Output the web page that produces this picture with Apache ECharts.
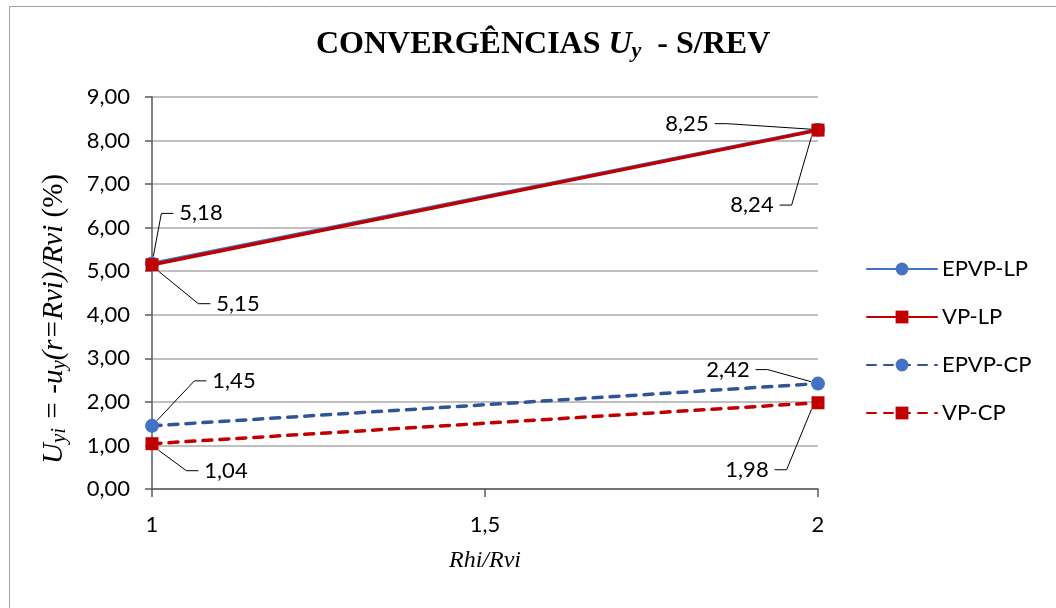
<!DOCTYPE html>
<html>
<head>
<meta charset="utf-8">
<script src="https://cdn.jsdelivr.net/npm/echarts@6/dist/echarts.min.js"></script>
<style>
html,body{margin:0;padding:0;background:#fff;}
#chart{width:1056px;height:608px;}
</style>
</head>
<body>
<div id="chart"></div>
<script>
// ---- data ----
var xValues = [1, 2];
var seriesNames = ['EPVP-LP', 'VP-LP', 'EPVP-CP', 'VP-CP'];
var epvpLP = [5.18, 8.25];
var vpLP = [5.15, 8.24];
var epvpCP = [1.45, 2.42];
var vpCP = [1.04, 1.98];
var xTicks = [1, 1.5, 2];
var yTicks = [0, 1, 2, 3, 4, 5, 6, 7, 8, 9];

// ---- label offsets (style) ----
var labelOffsets = [
  [[49, -50], [-131, -6]],
  [[86, 39], [-66, 75]],
  [[82, -45], [-90, -14]],
  [[74, 27], [-71, 67]]
];

function pairs(ys) { return xValues.map(function (x, i) { return [x, ys[i]]; }); }
function fmtNum(v, d) { return v.toFixed(d).replace('.', ','); }

var sansFont = 'Lato';
var serifFont = 'Liberation Serif';

var chart = echarts.init(document.getElementById('chart'), null, {renderer: 'canvas'});

function mkSeries(name, ys, idx, color, lineColor, symbol, dashed) {
  return {
    name: name,
    type: 'line',
    data: pairs(ys),
    symbol: symbol,
    symbolSize: symbol === 'circle' ? 14 : 13,
    itemStyle: {color: color},
    lineStyle: {color: lineColor, width: 3.5, type: dashed ? [9, 8] : 'solid', cap: 'round'},
    z: 2 + idx,
    label: {
      show: true,
      position: 'inside',
      formatter: function (p) { return fmtNum(p.value[1], 2); },
      color: '#000',
      fontFamily: sansFont,
      fontSize: 22,
      padding: [0, 6],
      backgroundColor: 'rgba(255,255,255,0)'
    },
    labelLine: {show: true, length2: 12, lineStyle: {color: '#000', width: 1}},
    labelLayout: function (p) {
      var o = labelOffsets[idx][p.dataIndex];
      return {dx: o[0], dy: o[1]};
    },
    animation: false
  };
}

var option = {
  backgroundColor: '#fff',
  animation: false,
  title: {
    text: '{a|CONVERGÊNCIAS }{u|U}{s|y}{a|  - S/REV}',
    left: 311,
    top: 22,
    textStyle: {
      rich: {
        a: {fontFamily: serifFont, fontWeight: 'bold', fontSize: 32, color: '#000'},
        u: {fontFamily: serifFont, fontWeight: 'bold', fontStyle: 'italic', fontSize: 32, color: '#000'},
        s: {fontFamily: serifFont, fontWeight: 'bold', fontStyle: 'italic', fontSize: 22, color: '#000', padding: [13, 0, 0, 0]}
      }
    }
  },
  graphic: [{
    type: 'rect', silent: true,
    shape: {x: 9.5, y: 6.5, width: 1100, height: 700},
    style: {fill: 'none', stroke: '#a0a0a0', lineWidth: 1}
  }],
  legend: {
    orient: 'vertical',
    left: 866,
    top: 258,
    padding: 0,
    itemWidth: 70,
    itemHeight: 16,
    itemGap: 26,
    data: seriesNames,
    textStyle: {fontFamily: sansFont, fontSize: 22, color: '#000'}
  },
  grid: {left: 152, right: 238, top: 97, bottom: 119, containLabel: false},
  xAxis: {
    type: 'value',
    min: 1, max: 2, interval: 0.5,
    name: '{i|Rhi/Rvi}',
    nameLocation: 'middle',
    nameGap: 60,
    nameTextStyle: {rich: {i: {fontFamily: serifFont, fontStyle: 'italic', fontSize: 24, color: '#000'}}},
    axisLine: {show: true, onZero: false, lineStyle: {color: '#595959', width: 1.5}},
    axisTick: {show: true, length: 8, lineStyle: {color: '#595959', width: 1.5}},
    axisLabel: {
      margin: 25,
      fontFamily: sansFont, fontSize: 22, color: '#000',
      showMinLabel: true, showMaxLabel: true,
      formatter: function (v) { return xTicks.indexOf(v) >= 0 ? String(v).replace('.', ',') : ''; }
    },
    splitLine: {show: false}
  },
  yAxis: {
    type: 'value',
    min: 0, max: 9, interval: 1,
    name: '{i|U}{s|yi}{i| = -u}{s|y}{i|(r=Rvi)/Rvi }{n|(%)}',
    nameLocation: 'middle',
    nameGap: 82,
    nameRotate: 90,
    nameTextStyle: {
      padding: [0, 52, 0, 0],
      rich: {
        i: {fontFamily: serifFont, fontStyle: 'italic', fontSize: 29, color: '#000'},
        s: {fontFamily: serifFont, fontStyle: 'italic', fontSize: 21, color: '#000', padding: [11, 0, 0, 0]},
        n: {fontFamily: serifFont, fontSize: 29, color: '#000'}
      }
    },
    axisLine: {show: true, lineStyle: {color: '#595959', width: 1.5}},
    axisTick: {show: true, length: 7, lineStyle: {color: '#595959', width: 1.5}},
    axisLabel: {
      margin: 22,
      fontFamily: sansFont, fontSize: 22, color: '#000',
      formatter: function (v) { return yTicks.indexOf(v) >= 0 ? fmtNum(v, 2) : ''; }
    },
    splitLine: {show: true, lineStyle: {color: '#ababab', width: 1.5}}
  },
  series: [
    mkSeries(seriesNames[0], epvpLP, 0, '#4472C4', '#4472C4', 'circle', false),
    mkSeries(seriesNames[1], vpLP, 1, '#C00000', '#C00000', 'rect', false),
    mkSeries(seriesNames[2], epvpCP, 2, '#4472C4', '#2F5597', 'circle', true),
    mkSeries(seriesNames[3], vpCP, 3, '#C00000', '#C00000', 'rect', true)
  ]
};
chart.setOption(option);
</script>
</body>
</html>
